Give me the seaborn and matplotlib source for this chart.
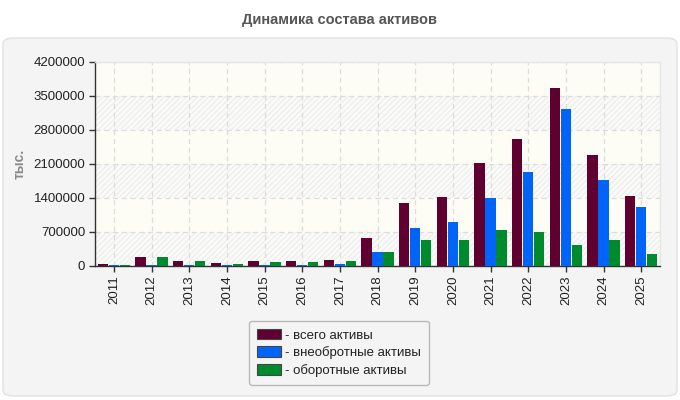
import matplotlib
matplotlib.use("Agg")
import matplotlib.pyplot as plt
import seaborn as sns
import pandas as pd
from matplotlib.patches import FancyBboxPatch, Patch

years = ["2011", "2012", "2013", "2014", "2015", "2016", "2017", "2018",
         "2019", "2020", "2021", "2022", "2023", "2024", "2025"]
total_assets = [32000, 192000, 110000, 69000, 110000, 110000, 130000, 583000,
                1303000, 1427000, 2127000, 2621000, 3671000, 2291000, 1447000]
noncurrent_assets = [28000, 28000, 28000, 28000, 28000, 28000, 48000, 295000,
                     789000, 912000, 1406000, 1941000, 3238000, 1777000, 1221000]
current_assets = [30000, 192000, 110000, 48000, 89000, 89000, 110000, 295000,
                  541000, 541000, 747000, 706000, 438000, 541000, 253000]
series_names = ["- всего активы", "- внеобротные активы", "- оборотные активы"]
y_ticks = [0, 700000, 1400000, 2100000, 2800000, 3500000, 4200000]
title = "Динамика состава активов"
y_label = "тыс."

colors = ["#5f0030", "#0064f8", "#008a2e"]

rows = []
for name, vals in zip(series_names, [total_assets, noncurrent_assets, current_assets]):
    for y, v in zip(years, vals):
        rows.append({"year": y, "value": v, "series": name})
df = pd.DataFrame(rows)

sns.set_theme(style="white")
plt.rcParams["font.family"] = ["Liberation Sans", "DejaVu Sans"]
plt.rcParams["hatch.linewidth"] = 0.6

fig = plt.figure(figsize=(6.8, 4.0), dpi=100)
fig.patch.set_facecolor("white")
panel = FancyBboxPatch((3 / 680, 4 / 400), 674 / 680, 358 / 400,
                       boxstyle="round,pad=0,rounding_size=0.015",
                       transform=fig.transFigure, facecolor="#f4f4f4",
                       edgecolor="#e2e2e2", linewidth=1, zorder=-5)
fig.patches.append(panel)

ax = fig.add_axes([95 / 680, 1 - 266 / 400, 565 / 680, 204 / 400])
ax.set_zorder(1)
ax.set_facecolor("#fdfdf6")

# alternating hatched bands
for i in range(0, len(y_ticks) - 1, 2):
    ax.axhspan(y_ticks[i], y_ticks[i + 1], facecolor="#fafaf8",
               edgecolor="#e8e8e8", hatch="//////", linewidth=0, zorder=0)

sns.barplot(data=df, x="year", y="value", hue="series", palette=colors,
            width=0.87, gap=0.06, ax=ax, zorder=3, saturation=1, legend=False,
            linewidth=0, edgecolor="none")

ax.set_xlim(-0.5, len(years) - 0.5)
ax.set_ylim(0, y_ticks[-1])
ax.set_yticks(y_ticks)
ax.set_yticklabels([str(t) for t in y_ticks], fontsize=9.5, color="#222222")
ax.set_xticks(range(len(years)))
ax.set_xticklabels(years, rotation=90, fontsize=9.5, color="#222222")
ax.set_xlabel("")
ax.set_ylabel(y_label, fontsize=10, color="#8a8a8a", fontweight="bold", labelpad=5)

ax.grid(True, axis="both", linestyle=(0, (4, 3)), color="#dcdcdc", linewidth=0.9, zorder=1)
ax.set_axisbelow(True)
for s in ["top", "right"]:
    ax.spines[s].set_color("#e6e6e6")
    ax.spines[s].set_linewidth(1)
for s in ["left", "bottom"]:
    ax.spines[s].set_color("#333333")
    ax.spines[s].set_linewidth(1)
ax.tick_params(axis="both", which="both", length=4, width=1, color="#333333",
               direction="out", left=True, bottom=True, pad=3)

fig.text(0.5, 1 - 20 / 400, title, ha="center", va="center", fontsize=10.5,
         fontweight="bold", color="#555555")

handles = [Patch(facecolor=c, edgecolor="#444444", linewidth=0.8) for c in colors]
leg = fig.legend(handles, series_names, loc="upper center",
                 bbox_to_anchor=(339 / 680, 1 - 314 / 400), fontsize=9.5,
                 frameon=True, fancybox=True, handlelength=1.8, handleheight=0.9,
                 handletextpad=0.3, labelspacing=0.35, borderpad=0.6,
                 labelcolor="#222222")
leg.get_frame().set_facecolor("#f4f4f4")
leg.get_frame().set_edgecolor("#aaaaaa")
leg.get_frame().set_linewidth(1)

fig.savefig("out.png", dpi=100, facecolor=fig.get_facecolor())
